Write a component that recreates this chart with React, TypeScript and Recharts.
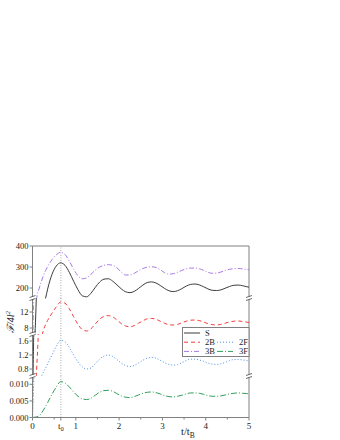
import React from "react";
import { LineChart, Line, XAxis, YAxis, ReferenceLine } from "recharts";

// time axis (t / t_B)
const T = [
  0, 0.05, 0.1, 0.15, 0.2, 0.25, 0.3, 0.35, 0.45, 0.55, 0.65, 0.75, 0.85, 0.95,
  1.05, 1.15, 1.25, 1.35, 1.45, 1.55, 1.65, 1.75, 1.85, 1.95, 2.05, 2.15, 2.25,
  2.35, 2.45, 2.55, 2.65, 2.75, 2.85, 2.95, 3.05, 3.15, 3.25, 3.35, 3.45, 3.55,
  3.65, 3.75, 3.85, 3.95, 4.05, 4.15, 4.25, 4.35, 4.45, 4.55, 4.65, 4.75, 4.85,
  4.95, 5.0,
];

const S_VALUES = [
  0, 5, 20, 45, 75, 112, 150, 195, 265, 305, 320, 308, 275, 232, 192, 163, 158,
  175, 203, 228, 242, 244, 233, 215, 196, 182, 178, 184, 198, 214, 226, 229, 224,
  212, 198, 187, 183, 187, 197, 209, 217, 219, 215, 206, 196, 189, 188, 191, 199,
  207, 213, 214, 211, 206, 204,
];

const B3_VALUES = [
  0, 45, 155, 195, 228, 258, 282, 302, 335, 358, 370, 360, 328, 290, 258, 244,
  248, 265, 285, 300, 308, 311, 308, 296, 276, 262, 262, 270, 282, 293, 299, 301,
  298, 287, 273, 266, 268, 275, 284, 291, 295, 295, 292, 284, 275, 270, 271, 276,
  283, 289, 292, 293, 291, 288, 287,
];

const B2_VALUES = [
  0, 0.12, 0.9, 2.4, 5.0, 7.4, 8.8, 9.9, 11.7, 13.3, 14.5, 14.2, 12.8, 10.8, 8.9,
  7.6, 7.25, 7.8, 9.0, 10.2, 10.9, 11.1, 10.8, 10.0, 9.1, 8.5, 8.3, 8.6, 9.2, 9.8,
  10.3, 10.4, 10.2, 9.7, 9.2, 8.8, 8.75, 8.9, 9.3, 9.7, 9.95, 10.0, 9.85, 9.5,
  9.1, 8.85, 8.75, 8.9, 9.2, 9.5, 9.7, 9.75, 9.65, 9.45, 9.4,
];

const F2_VALUES = [
  0, 0.03, 0.13, 0.32, 0.57, 0.7, 0.82, 0.95, 1.2, 1.45, 1.62, 1.58, 1.42, 1.2,
  1.0, 0.86, 0.8, 0.83, 0.95, 1.08, 1.17, 1.2, 1.16, 1.07, 0.97, 0.9, 0.87, 0.9,
  0.97, 1.05, 1.11, 1.13, 1.11, 1.05, 0.98, 0.93, 0.91, 0.93, 0.98, 1.04, 1.08,
  1.08, 1.06, 1.02, 0.97, 0.94, 0.93, 0.95, 0.99, 1.04, 1.07, 1.07, 1.06, 1.04,
  1.03,
];

const F3_VALUES = [
  0, 0.0001, 0.0002, 0.0005, 0.0012, 0.0022, 0.0033, 0.0045, 0.007, 0.0092,
  0.0108, 0.0104, 0.0092, 0.0077, 0.0064, 0.0056, 0.0054, 0.0058, 0.0067, 0.0076,
  0.0081, 0.0082, 0.0079, 0.0072, 0.0065, 0.0061, 0.006, 0.0063, 0.0068, 0.0073,
  0.0076, 0.0077, 0.0075, 0.0071, 0.0066, 0.0063, 0.0062, 0.0064, 0.0067, 0.0071,
  0.0074, 0.0074, 0.0073, 0.007, 0.0066, 0.0064, 0.0064, 0.0065, 0.0068, 0.0071,
  0.0073, 0.0074, 0.0073, 0.0072, 0.0071,
];

const T0 = 0.655;
const X_TICKS = [0, 0.5, T0, 1, 1.5, 2, 2.5, 3, 3.5, 4, 4.5, 5];

const data = T.map((t, i) => ({
  t,
  S: S_VALUES[i],
  B2: B2_VALUES[i],
  F2: F2_VALUES[i],
  B3: B3_VALUES[i],
  F3: F3_VALUES[i],
}));

const SERIES = [
  { key: "S", name: "S", color: "#3c3c3c", dash: undefined as string | undefined },
  { key: "B2", name: "2B", color: "#f23c3c", dash: "4 3" },
  { key: "F2", name: "2F", color: "#4a8fe6", dash: "1 2" },
  { key: "B3", name: "3B", color: "#a878e8", dash: "5 2 1 2" },
  { key: "F3", name: "3F", color: "#2e9e5a", dash: "6 2 1 2" },
];

const PANELS = [
  { top: 245.5, bottom: 298, domain: [150, 400], ticks: [200, 300, 400], fmt: (v: number) => String(v) },
  { top: 298, bottom: 334, domain: [6.5, 15.5], ticks: [8, 12], fmt: (v: number) => String(v) },
  { top: 334, bottom: 376, domain: [0.6, 1.8], ticks: [0.8, 1.2, 1.6], fmt: (v: number) => v.toFixed(1) },
  { top: 376, bottom: 417.5, domain: [0, 0.0125], ticks: [0, 0.005, 0.01], fmt: (v: number) => v.toFixed(3) },
];

const AXIS = "#808080";
const TEXT = "#222";
const FONT = "'Liberation Serif', 'DejaVu Serif', serif";
const LEFT = 32.5;
const RIGHT = 249;
const PAD = 7;
const X_AXIS_H = 20;

const XTick = (props: any) => {
  const { x, y, payload } = props;
  const v = payload.value;
  const minor = v % 1 === 0.5;
  return (
    <g>
      <line x1={x} x2={x} y1={y} y2={y + (minor ? 2 : 3)} stroke={AXIS} />
      {!minor &&
        (v === T0 ? (
          <text x={x} y={y + 11} textAnchor="middle" fontSize={9} fontFamily={FONT} fill={TEXT}>
            t<tspan dy={2} fontSize={6.5}>0</tspan>
          </text>
        ) : (
          <text x={x} y={y + 11} textAnchor="middle" fontSize={9} fontFamily={FONT} fill={TEXT}>
            {v}
          </text>
        ))}
    </g>
  );
};

const YTick = (props: any) => {
  const { x, y, payload, fmt } = props;
  return (
    <text x={x} y={y + 3} textAnchor="end" fontSize={8.5} fontFamily={FONT} fill={TEXT}>
      {fmt(payload.value)}
    </text>
  );
};

function Panel({ p, last, first }: { p: (typeof PANELS)[number]; last: boolean; first: boolean }) {
  const h = p.bottom - p.top;
  const bottom = last ? 0 : PAD;
  return (
    <div style={{ position: "absolute", left: 0, top: p.top - PAD }}>
      <LineChart
        width={340}
        height={h + PAD + (last ? X_AXIS_H : PAD)}
        data={data}
        margin={{ top: PAD, right: 340 - RIGHT, bottom, left: 0 }}
      >
        <XAxis
          dataKey="t"
          type="number"
          domain={[0, 5]}
          ticks={X_TICKS}
          hide={!last}
          height={last ? X_AXIS_H : 0}
          tickSize={0}
          tickMargin={0}
          tickLine={false}
          tick={<XTick />}
          axisLine={{ stroke: AXIS }}
          interval={0}
        />
        <YAxis
          type="number"
          domain={p.domain}
          ticks={p.ticks}
          allowDataOverflow
          width={LEFT}
          tickSize={3}
          tickMargin={1}
          tick={<YTick fmt={p.fmt} />}
          tickLine={{ stroke: AXIS }}
          axisLine={{ stroke: AXIS }}
          interval={0}
        />
        <ReferenceLine x={T0} stroke="#aaaaaa" strokeDasharray="1 1.5" />
        <ReferenceLine x={5} stroke={AXIS} />
        {first && <ReferenceLine y={400} stroke={AXIS} />}
        {SERIES.map((s) => (
          <Line
            key={s.key}
            dataKey={s.key}
            type="monotone"
            stroke={s.color}
            strokeWidth={1}
            strokeDasharray={s.dash}
            dot={false}
            activeDot={false}
            isAnimationActive={false}
          />
        ))}
      </LineChart>
    </div>
  );
}

const Break = ({ x, y }: { x: number; y: number }) => (
  <g>
    <rect x={x - 3} y={y - 1.5} width={6} height={3} fill="#fff" />
    <line x1={x - 3} y1={y - 0.5} x2={x + 3} y2={y - 2.5} stroke="#444" strokeWidth={0.8} />
    <line x1={x - 3} y1={y + 2.5} x2={x + 3} y2={y + 0.5} stroke="#444" strokeWidth={0.8} />
  </g>
);

export default function App() {
  const legendRows = [
    [SERIES[0]],
    [SERIES[1], SERIES[2]],
    [SERIES[3], SERIES[4]],
  ];
  return (
    <div style={{ position: "absolute", left: 0, top: 0, width: 340, height: 440, background: "#fff" }}>
      {PANELS.map((p, i) => (
        <Panel key={i} p={p} first={i === 0} last={i === PANELS.length - 1} />
      ))}
      <svg
        width={340}
        height={440}
        style={{ position: "absolute", left: 0, top: 0, pointerEvents: "none" }}
      >
        {[298, 334, 376].map((y) => (
          <Break key={"l" + y} x={LEFT} y={y} />
        ))}
        {[298, 376].map((y) => (
          <Break key={"r" + y} x={RIGHT} y={y} />
        ))}
        <text
          transform="translate(14,322) rotate(-90)"
          textAnchor="middle"
          fontSize={10}
          fontFamily={FONT}
          fontStyle="italic"
          fill={TEXT}
        >
          ℱ/4l<tspan dy={-4} fontSize={7}>2</tspan>
        </text>
        <text x={181} y={435} fontSize={10.5} fontFamily={FONT} fill={TEXT}>
          t/t<tspan dy={3} fontSize={7.5}>B</tspan>
        </text>
        <rect x={182.5} y={327.5} width={66.5} height={29} fill="#fff" stroke={AXIS} strokeWidth={1} />
        {legendRows.map((row, r) =>
          row.map((s, c) => {
            const y = 333 + r * 9.2;
            const x0 = c === 0 ? 184 : 217;
            return (
              <g key={s.key}>
                <line x1={x0} x2={x0 + 16} y1={y} y2={y} stroke={s.color} strokeWidth={1} strokeDasharray={s.dash} />
                <text
                  x={c === 0 ? 205 : 248}
                  y={y + 3}
                  textAnchor={c === 0 ? "start" : "end"}
                  fontSize={8.5}
                  fontFamily={FONT}
                  fill={TEXT}
                >
                  {s.name}
                </text>
              </g>
            );
          })
        )}
      </svg>
    </div>
  );
}
